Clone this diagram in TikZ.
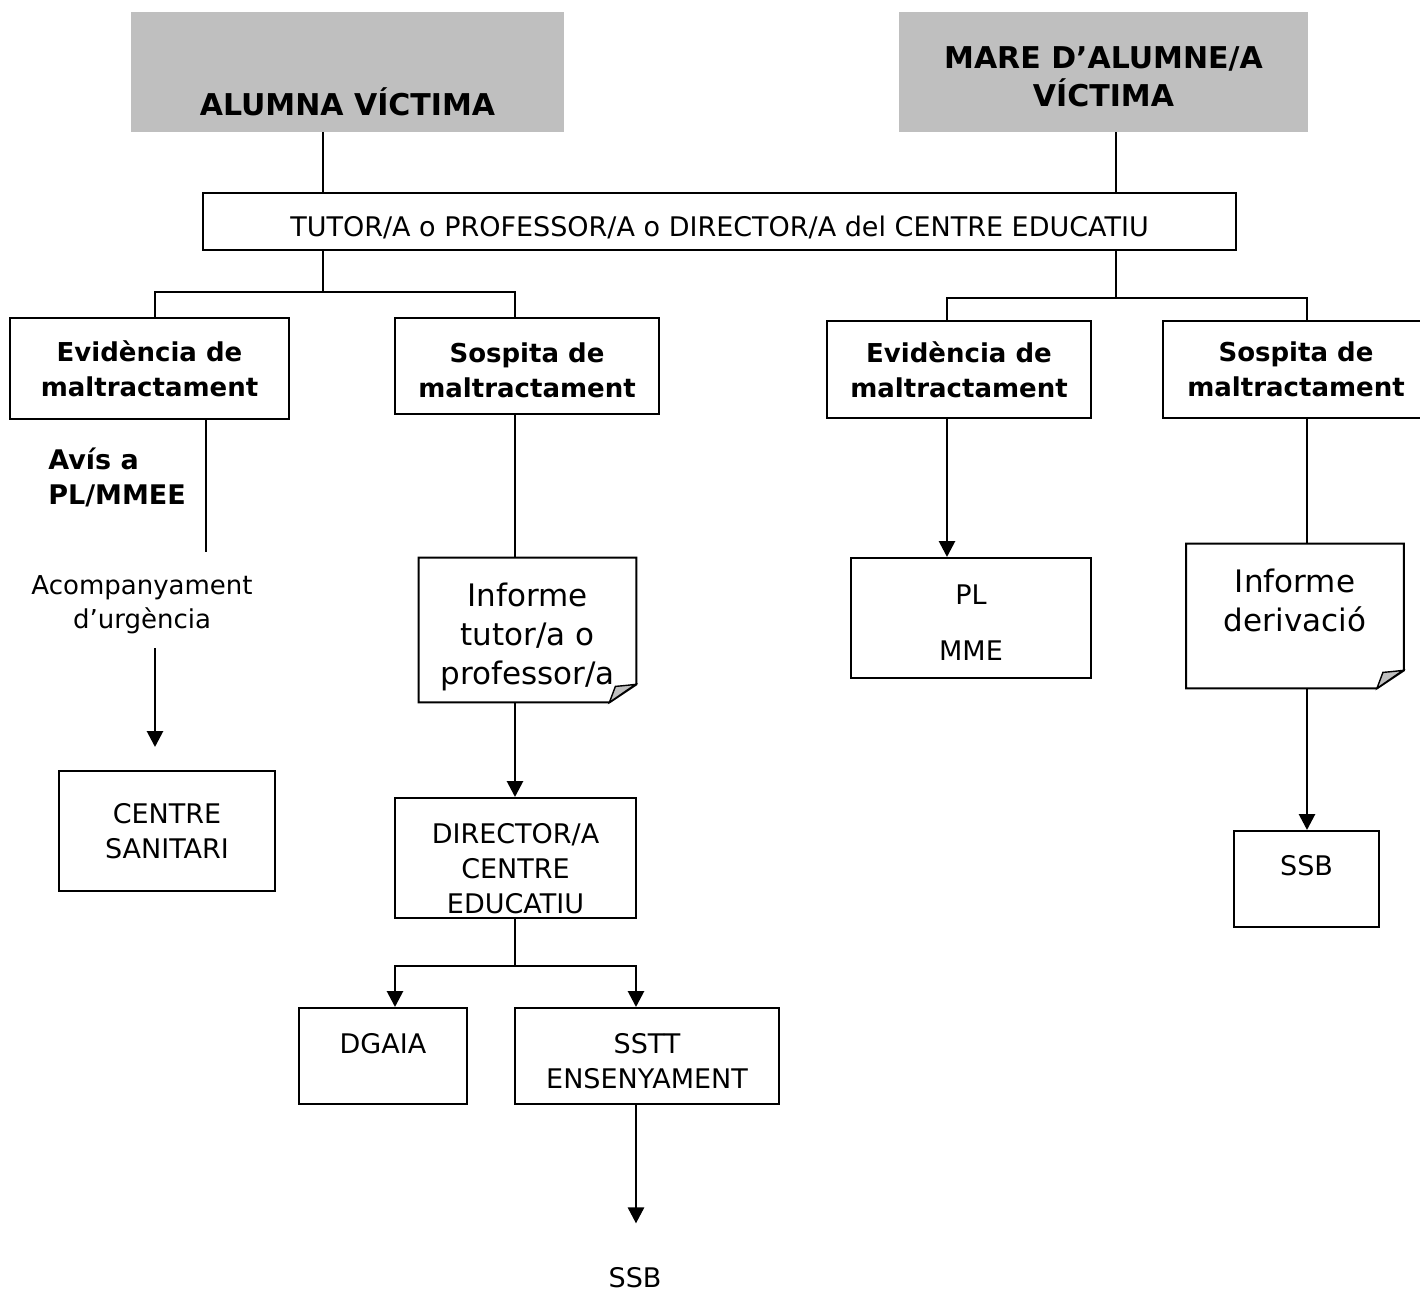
\documentclass[tikz,border=0pt]{standalone}
\usepackage{fontspec}
\setmainfont{DejaVu Sans}
\usetikzlibrary{arrows.meta}

\begin{document}
\begin{tikzpicture}[x=0.5pt, y=-0.5pt,
  box/.style={draw, line width=1pt, align=center, inner sep=0pt,
              font=\fontsize{13.5pt}{17.5pt}\selectfont},
  bbox/.style={box, font=\fontsize{13pt}{17.5pt}\selectfont\bfseries},
  head/.style={fill=black!25, inner sep=0pt, align=center, minimum height=60pt,
               font=\fontsize{15pt}{19pt}\selectfont\bfseries},
  note/.style={inner sep=0pt, align=center, minimum width=108.5pt, minimum height=72pt,
               font=\fontsize{15.5pt}{19.5pt}\selectfont},
  txt/.style={inner sep=0pt, align=center, font=\fontsize{13pt}{17pt}\selectfont},
  line/.style={line width=1.4pt},
  arrow/.style={line, -{Triangle[length=8pt, width=8pt]}}
]
\useasboundingbox (0,0) rectangle (1420,1296);
\clip (0,0) rectangle (1420,1296);

% top
\node[head, minimum width=216.5pt, text height=43pt, text depth=0pt] (alumna) at (347.5,72) {ALUMNA VÍCTIMA};
\node[head, minimum width=204.5pt] (mare) at (1103.5,72) {\rule{0pt}{16pt}MARE D’ALUMNE/A\\VÍCTIMA};
\node[box, minimum width=516.5pt, minimum height=28.5pt, text height=17pt, text depth=2pt] (tutor) at (719.5,221.5) {TUTOR/A o PROFESSOR/A o DIRECTOR/A del CENTRE EDUCATIU};

% second row
\node[bbox, minimum width=139.5pt, minimum height=50.5pt] (evid1) at (149.5,368.5) {Evidència de\\maltractament};
\node[bbox, minimum width=132pt, minimum height=48pt] (sosp1) at (527,366) {\rule{0pt}{14pt}Sospita de\\maltractament};
\node[bbox, minimum width=132pt, minimum height=48.5pt] (evid2) at (959,369.5) {Evidència de\\maltractament};
\node[bbox, minimum width=133pt, minimum height=48.5pt] (sosp2) at (1296,369.5) {Sospita de\\maltractament};

% left branch
\node[txt, font=\fontsize{13.5pt}{17.5pt}\selectfont\bfseries, align=left, anchor=west] (avis) at (48,477) {Avís a\\PL/MMEE};
\node[txt] (acomp) at (142,605) {Acompanyament\\d’urgència};
\node[box, minimum width=108pt, minimum height=60pt] (sanit) at (167,831) {CENTRE\\SANITARI};
\node[note] (inf1) at (527.5,630) {\rule{0pt}{18.5pt}Informe\\tutor/a o\\professor/a};
\node[box, minimum width=120.5pt, minimum height=60pt] (dir) at (515.5,858) {\rule{0pt}{21pt}DIRECTOR/A\\CENTRE\\EDUCATIU};
\node[box, minimum width=84pt, minimum height=48pt] (dgaia) at (383,1056) {\rule{0pt}{15pt}DGAIA\\\mbox{}};
\node[box, minimum width=132pt, minimum height=48pt] (sstt) at (647,1056) {\rule{0pt}{15pt}SSTT\\ENSENYAMENT};
\node[txt, font=\fontsize{13.5pt}{17.5pt}\selectfont] (ssb1) at (635,1278) {SSB};

% right branch
\node[box, minimum width=120pt, minimum height=60pt] (plmme) at (971,618) {\rule{0pt}{14pt}PL\\[10.5pt]MME};
\node[note] (inf2) at (1295,616) {\rule{0pt}{15pt}Informe\\derivació\\\mbox{}};
\node[box, minimum width=72.5pt, minimum height=48pt] (ssb2) at (1306.5,879) {\rule{0pt}{14pt}SSB\\\mbox{}};

% folded notes
\foreach \n in {inf1,inf2} {
  \draw[line width=1pt] (\n.north west) -- (\n.north east) -- ([yshift=9pt]\n.south east)
    -- ([xshift=-13.5pt]\n.south east) -- (\n.south west) -- cycle;
  \draw[line width=0.7pt, fill=black!25] ([xshift=-13.5pt]\n.south east) -- ([xshift=-0.5pt,yshift=9pt]\n.south east)
    .. controls ([xshift=-5pt,yshift=8.5pt]\n.south east) .. ([xshift=-10.5pt,yshift=8pt]\n.south east) -- cycle;
}

% junctions
\coordinate (jl) at (323,292);
\coordinate (jr) at (1116,298);
\coordinate (jd) at (515,966);
\coordinate (ca) at (155,292);
\coordinate (cb) at (515,292);
\coordinate (cc) at (947,298);
\coordinate (cd) at (1307,298);
\coordinate (ce) at (155,648);
\coordinate (cf) at (395,966);
\coordinate (cg) at (636,966);
\coordinate (avisend) at (206,552);

\draw[line width=0.9pt] (alumna.south -| jl) -- (tutor.north -| jl);
\draw[line width=0.9pt] (mare.south -| jr) -- (tutor.north -| jr);
\draw[line] (tutor.south -| jl) -- (jl);
\draw[line] (tutor.south -| jr) -- (jr);
\draw[line] (evid1.north -| ca) |- (cb) -- (sosp1.north -| cb);
\draw[line] (evid2.north -| cc) |- (cd) -- (sosp2.north -| cd);

\draw[line] (evid1.south -| avisend) -- (avisend);
\draw[arrow, shorten >=11.5pt] (ce) -- (sanit.north -| ce);
\draw[line] (sosp1.south -| cb) -- (inf1.north -| cb);
\draw[arrow] (inf1.south -| cb) -- (dir.north -| cb);
\draw[line] (dir.south -| cb) -- (jd);
\draw[arrow] (jd) -| (dgaia.north -| cf);
\draw[arrow] (jd) -| (sstt.north -| cg);
\draw[arrow, shorten >=22pt] (sstt.south -| cg) -- (ssb1.north -| cg);

\draw[arrow] (evid2.south -| cc) -- (plmme.north -| cc);
\draw[line] (sosp2.south -| cd) -- (inf2.north -| cd);
\draw[arrow] (inf2.south -| cd) -- (ssb2.north -| cd);
\end{tikzpicture}
\end{document}
